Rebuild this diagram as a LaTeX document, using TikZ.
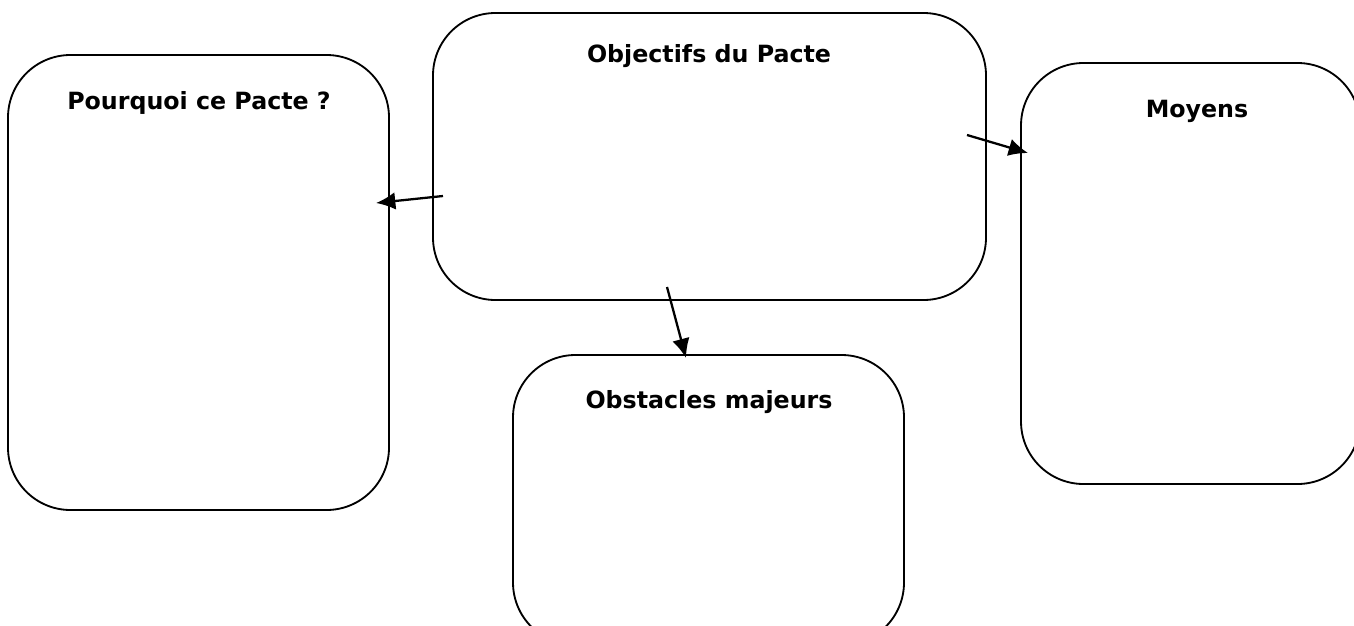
\documentclass[tikz,border=0pt]{standalone}
\usepackage{fontspec}
\setmainfont{DejaVu Sans}
\usetikzlibrary{arrows.meta}

\tikzset{
  boite/.style={black, line width=1.05pt, rounded corners=1.25cm},
  titre/.style={font=\bfseries\fontsize{13.5}{16}\selectfont, inner sep=0pt, anchor=base},
  fleche/.style={-{Latex[length=11pt,width=10pt]}, black, line width=1.3pt}
}

\begin{document}
\begin{tikzpicture}[x=0.02cm, y=-0.02cm]
	\useasboundingbox (0,0) rectangle (1354,625);
	\clip (0,0) rectangle (1354,625);
	% les quatre cadres
	\draw[boite](8,55)rectangle(389,510);
	\draw[boite](433,13)rectangle(986,300);
	\draw[boite](1021,63)rectangle(1360,484);
	\draw[boite](513,355)rectangle(904,645);
	\node[titre] (pourquoi) at (199,110){Pourquoi ce Pacte ?};
	\node[titre] (objectifs) at (709,63){Objectifs du Pacte};
	\node[titre] (moyens) at (1197,117){Moyens};
	\node[titre] (obstacles) at (709,408){Obstacles majeurs};

	% fleches
	\coordinate (depG) at (443,196);
	\coordinate (finG) at (376,203);
	\coordinate (depD) at (967,135);
	\coordinate (finD) at (1028,153);
	\coordinate (depB) at (667,287);
	\coordinate (finB) at (686,358);
	\draw[fleche](depG)--(finG);
	\draw[fleche](depD)--(finD);
	\draw[fleche](depB)--(finB);
\end{tikzpicture}
\end{document}
